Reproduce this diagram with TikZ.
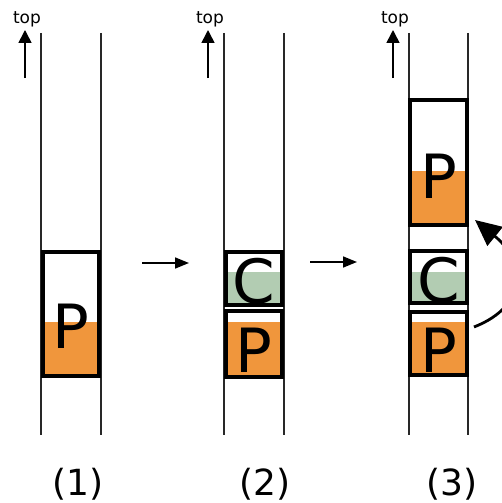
\documentclass[tikz,border=0pt]{standalone}
\usepackage{fontspec}
\setmainfont{DejaVu Sans}
\usetikzlibrary{arrows.meta}
\definecolor{pcol}{RGB}{240,150,60}
\definecolor{ccol}{RGB}{178,204,178}
\definecolor{railcol}{RGB}{40,40,40}
\tikzset{
  rail/.style={draw=railcol,line width=1.6pt},
  cellbox/.style={draw=black,line width=3.6pt,minimum width=56.5pt,inner sep=0pt,fill=none},
  letter/.style={font=\fontsize{61}{61}\selectfont,anchor=base,inner sep=0pt},
  steplbl/.style={font=\fontsize{36}{36}\selectfont,anchor=base,inner sep=0pt},
  toplbl/.style={font=\fontsize{17}{17}\selectfont,anchor=base,inner sep=0pt},
  uparrow/.style={line width=1.6pt,-{Triangle[length=13pt,width=13pt]}},
  flow/.style={line width=1.6pt,-{Triangle[length=14pt,width=11pt]}},
  swap/.style={line width=2.8pt,-{Triangle[length=26pt,width=24pt]}},
}
\begin{document}
\begin{tikzpicture}[x=1pt,y=-1pt]
\useasboundingbox (0,0) rectangle (502,503);
\clip (0,0) rectangle (502,503);

% stack rails
\foreach \xl/\xr in {41/101,224/284,409/468}{
  \draw[rail] (\xl,33) -- (\xl,435);
  \draw[rail] (\xr,33) -- (\xr,435);
}

% "top" markers
\foreach \i/\x in {1/25,2/208,3/393}{
  \node[toplbl] (top\i) at (\x+2,24) {top};
  \coordinate (tb\i) at (\x,78);
  \coordinate (tt\i) at (\x,30);
  \draw[uparrow] (tb\i) -- (tt\i);
}

% (1) single producer frame
\fill[white] (42,251) rectangle (100,377);
\fill[pcol] (42,322) rectangle (100,377);
\node[cellbox,minimum height=124pt] (p1) at (71,314) {};
\node[letter] (p1t) at (71,348) {P};

% (2) callee frame pushed above producer
\fill[white] (225,251) rectangle (283,306);
\fill[ccol] (225,272) rectangle (283,306);
\node[cellbox,minimum height=53.5pt] (c2) at (254,278.5) {};
\node[letter] (c2t) at (254,303) {C};
\fill[white] (225,310) rectangle (283,377);
\fill[pcol] (225,322) rectangle (283,377);
\node[cellbox,minimum height=66pt] (p2) at (254,344) {};
\node[letter] (p2t) at (254,372) {P};

% (3) producer frame moved above callee
\fill[white] (410,99) rectangle (467,226);
\fill[pcol] (410,171) rectangle (467,226);
\node[cellbox,minimum height=125.5pt] (p3top) at (438.5,162.5) {};
\node[letter] (p3topt) at (438.5,198) {P};
\fill[white] (410,250) rectangle (467,304);
\fill[ccol] (410,272) rectangle (467,304);
\node[cellbox,minimum height=52.5pt] (c3) at (438.5,277) {};
\node[letter] (c3t) at (438.5,302) {C};
\fill[white] (410,311) rectangle (467,376);
\fill[pcol] (410,322) rectangle (467,376);
\node[cellbox,minimum height=63.5pt] (p3) at (438.5,343.5) {};
\node[letter] (p3t) at (438.5,372) {P};

% transitions
\coordinate (a1s) at (142,263);
\coordinate (a1e) at (189,263);
\draw[flow] (a1s) -- (a1e);
\coordinate (a2s) at (310,262);
\coordinate (a2e) at (357,262);
\draw[flow] (a2s) -- (a2e);

% frame move
\coordinate (ms) at (474,327);
\coordinate (me) at (475,220);
\draw[swap] (ms) .. controls (530,305) and (524,260) .. (me);

% step captions
\node[steplbl] (s1) at (78,495) {(1)};
\node[steplbl] (s2) at (265,495) {(2)};
\node[steplbl] (s3) at (452,495) {(3)};
\end{tikzpicture}
\end{document}
